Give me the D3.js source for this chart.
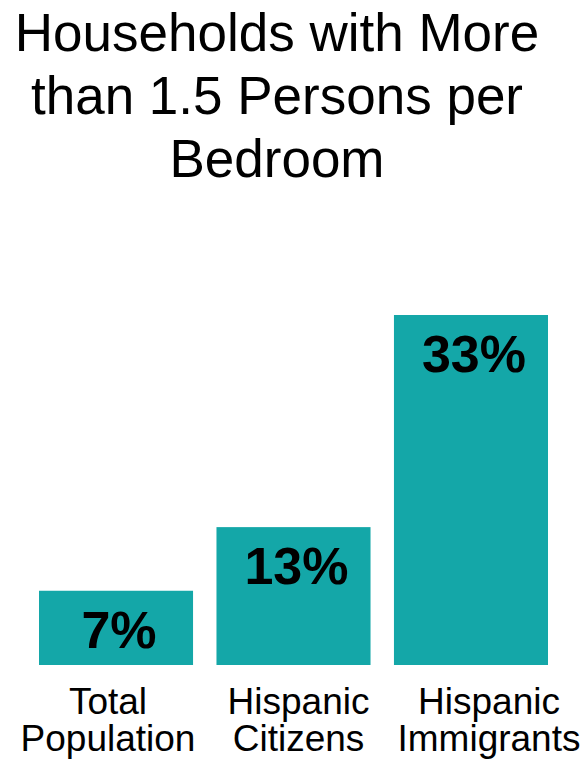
<!DOCTYPE html>
<html>
<head>
<meta charset="utf-8">
<script src="https://cdn.jsdelivr.net/npm/d3@7"></script>
<style>
  body { margin: 0; background: #fff; }
  text { font-family: "Liberation Sans", Arial, sans-serif; }
</style>
</head>
<body>
<div id="chart"></div>
<script>
// chart data
var titleLines = ['Households with More', 'than 1.5 Persons per', 'Bedroom'];
var categories = ['Total Population', 'Hispanic Citizens', 'Hispanic Immigrants'];
var categoryLines = [['Total', 'Population'], ['Hispanic', 'Citizens'], ['Hispanic', 'Immigrants']];
var values = [7, 13, 33];
var valueLabels = ['7%', '13%', '33%'];

var width = 586;
var height = 763;
var barColor = '#14a7a8';

var svg = d3.select('#chart')
    .append('svg')
    .attr('width', width)
    .attr('height', height);

// title
svg.append('g')
    .selectAll('text')
    .data(titleLines)
    .enter()
    .append('text')
    .attr('x', 277)
    .attr('y', function(d, i) { return 51 + i * 63; })
    .attr('text-anchor', 'middle')
    .style('font-size', '53px')
    .style('fill', '#000')
    .text(function(d) { return d; });

var x = d3.scaleBand()
    .domain(categories)
    .range([39, 548])
    .paddingInner(0.132)
    .paddingOuter(0);

// labels sit on a slightly wider spacing than the bars
var xLabel = d3.scalePoint()
    .domain(categories)
    .range([108, 489]);

var y = d3.scaleLinear()
    .domain([0, 33])
    .range([665, 315]);

svg.selectAll('.bar')
    .data(values)
    .enter()
    .append('rect')
    .attr('class', 'bar')
    .attr('x', function(d, i) { return x(categories[i]); })
    .attr('y', function(d) { return y(d); })
    .attr('width', x.bandwidth())
    .attr('height', function(d) { return y(0) - y(d); })
    .style('fill', barColor);

svg.selectAll('.value')
    .data(values)
    .enter()
    .append('text')
    .attr('class', 'value')
    .attr('x', function(d, i) { return x(categories[i]) + x.bandwidth() / 2 + 3; })
    .attr('y', function(d) { return y(d) + 57; })
    .attr('text-anchor', 'middle')
    .style('font-size', '52px')
    .style('font-weight', 'bold')
    .style('fill', '#000')
    .text(function(d, i) { return valueLabels[i]; });

// category labels, two lines each
var cat = svg.selectAll('.cat')
    .data(categories)
    .enter()
    .append('text')
    .attr('class', 'cat')
    .attr('text-anchor', 'middle')
    .style('font-size', '37px')
    .style('fill', '#000');

cat.selectAll('tspan')
    .data(function(d, i) {
        return categoryLines[i].map(function(t) { return { t: t, c: d }; });
    })
    .enter()
    .append('tspan')
    .attr('x', function(d) { return xLabel(d.c); })
    .attr('y', function(d, j) { return 714 + j * 37; })
    .text(function(d) { return d.t; });
</script>
</body>
</html>
